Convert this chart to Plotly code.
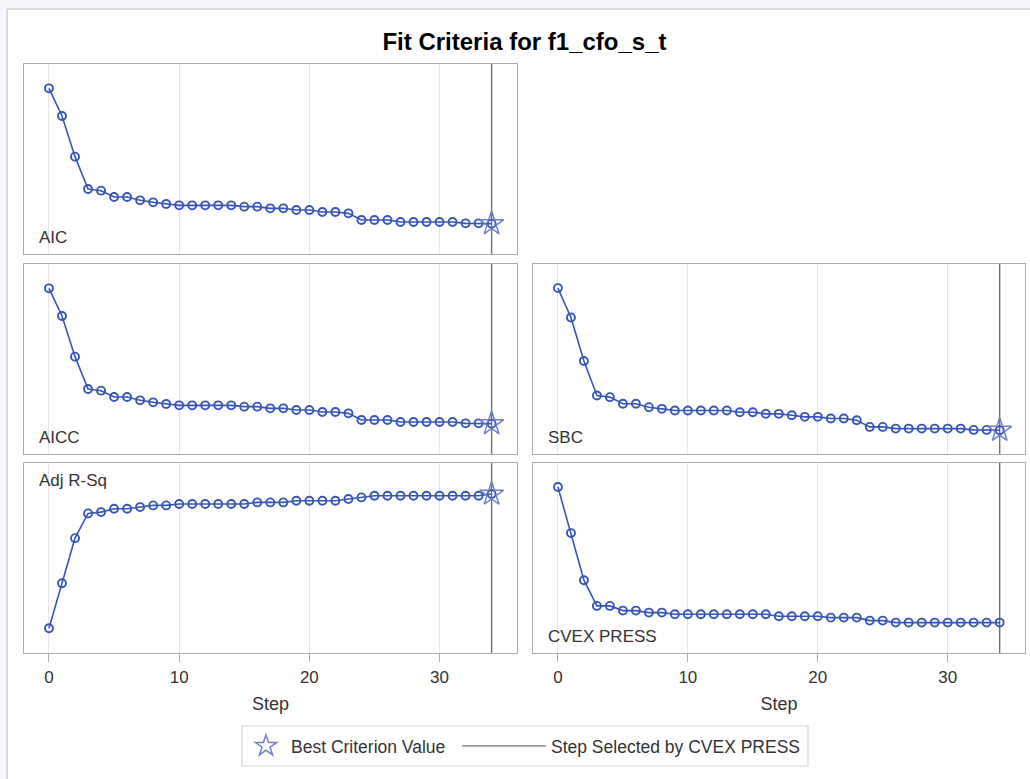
import plotly.graph_objects as go

# ---------------- data ----------------
steps = list(range(35))
selected_step = 34

aic = [1415, 1332, 1210, 1113, 1108, 1089, 1089, 1079, 1073, 1068, 1064, 1064, 1064, 1064, 1064,
       1060, 1060, 1055, 1055, 1050, 1050, 1044, 1044, 1040, 1020, 1020, 1020, 1014, 1014, 1014,
       1014, 1014, 1010, 1010, 1009]
aicc = [1417, 1334, 1212, 1115, 1110, 1091, 1091, 1081, 1075, 1070, 1066, 1066, 1066, 1066, 1066,
        1062, 1062, 1057, 1057, 1052, 1052, 1046, 1046, 1042, 1022, 1022, 1022, 1016, 1016, 1016,
        1016, 1016, 1012, 1012, 1011]
sbc = [1416, 1328, 1198, 1095, 1090, 1070, 1070, 1060, 1055, 1050, 1050, 1050, 1050, 1050, 1045,
       1045, 1040, 1040, 1036, 1031, 1031, 1026, 1026, 1021, 1001, 1001, 996, 996, 996, 996,
       996, 996, 992, 992, 991]
adj_rsq = [0.480, 0.615, 0.750, 0.824, 0.828, 0.838, 0.838, 0.843, 0.848, 0.848, 0.852, 0.852,
           0.852, 0.852, 0.852, 0.852, 0.857, 0.857, 0.857, 0.862, 0.862, 0.862, 0.862, 0.867,
           0.872, 0.877, 0.877, 0.877, 0.877, 0.877, 0.877, 0.877, 0.877, 0.877, 0.882]
cvex_press = [1403, 1265, 1124, 1047, 1047, 1033, 1033, 1027, 1027, 1022, 1022, 1022, 1022, 1022,
              1022, 1022, 1022, 1016, 1016, 1016, 1016, 1012, 1012, 1012, 1003, 1003, 997, 997,
              997, 997, 997, 997, 997, 997, 997]
x_ticks = [0, 10, 20, 30]

# ---------------- layout geometry (pixels) ----------------
W, H = 1030, 779
COL_L = (24, 517)
COL_R = (533, 1025)
ROW1 = (64, 254)
ROW2 = (264, 454)
ROW3 = (463, 653)
X_RANGE = [-1.92, 35.95]
LEG_BOX = (242, 808, 726, 766)  # left, right, top, bottom

BLUE = "#3556b8"
STAR = "#6f80c4"
REFLINE = "#707070"
FRAME = "#ababab"
GRID = "#e6e6e6"
TXT = "#333333"
FONT = "Liberation Sans, Arial, sans-serif"


def xdom(c):
    return [c[0] / W, c[1] / W]


def ydom(r):
    return [1 - r[1] / H, 1 - r[0] / H]


# name, values, column, row, best, y range, label position, bottom row, show star
panels = [
    ("AIC", aic, COL_L, ROW1, "min", [918, 1488], "bottom", False, True),
    ("AICC", aicc, COL_L, ROW2, "min", [920, 1490], "bottom", False, True),
    ("SBC", sbc, COL_R, ROW2, "min", [920, 1488], "bottom", False, True),
    ("Adj R-Sq", adj_rsq, COL_L, ROW3, "max", [0.406, 0.975], "top", True, True),
    ("CVEX PRESS", cvex_press, COL_R, ROW3, "min", [906, 1475], "bottom", True, False),
]

fig = go.Figure()
layout = {}
annotations = []
star_legend_done = False
line_legend_done = False

for i, (name, vals, col, row, best, yr, labpos, bottom, show_star) in enumerate(panels, start=1):
    xa = "x" if i == 1 else f"x{i}"
    ya = "y" if i == 1 else f"y{i}"
    xkey = "xaxis" if i == 1 else f"xaxis{i}"
    ykey = "yaxis" if i == 1 else f"yaxis{i}"

    # reference line at selected step
    fig.add_trace(go.Scatter(
        x=[selected_step, selected_step], y=yr, mode="lines",
        line=dict(color=REFLINE, width=1.4),
        name="Step Selected by CVEX PRESS", legend="legend2",
        showlegend=not line_legend_done, hoverinfo="skip",
        xaxis=xa, yaxis=ya))
    line_legend_done = True

    # criterion curve
    fig.add_trace(go.Scatter(
        x=steps, y=vals, mode="lines+markers",
        line=dict(color=BLUE, width=1.6),
        marker=dict(symbol="circle-open", size=8, color=BLUE, line=dict(width=1.9, color=BLUE)),
        showlegend=False, name=name, xaxis=xa, yaxis=ya))

    # best criterion value star
    if show_star:
        bv = min(vals) if best == "min" else max(vals)
        bi = len(vals) - 1 - vals[::-1].index(bv)
        fig.add_trace(go.Scatter(
            x=[steps[bi]], y=[bv], mode="markers",
            marker=dict(symbol="star-open", size=18, color=STAR, line=dict(width=1.5, color=STAR)),
            name="Best Criterion Value", legend="legend",
            showlegend=not star_legend_done, xaxis=xa, yaxis=ya))
        star_legend_done = True

    layout[xkey] = dict(
        domain=xdom(col), range=X_RANGE, anchor=ya,
        tickvals=x_ticks, showgrid=True, gridcolor=GRID, gridwidth=1,
        zeroline=False, showline=True, mirror=True, linecolor=FRAME, linewidth=1.3,
        ticks="outside" if bottom else "", ticklen=8, tickwidth=1.3, tickcolor=FRAME,
        showticklabels=bottom,
        tickfont=dict(size=17, color=TXT, family=FONT),
        title=dict(text="Step" if bottom else "", font=dict(size=18, color=TXT, family=FONT), standoff=11),
    )
    layout[ykey] = dict(
        domain=ydom(row), range=yr, anchor=xa,
        showgrid=False, zeroline=False, showline=True, mirror=True,
        linecolor=FRAME, linewidth=1.3, ticks="", showticklabels=False,
    )

    if labpos == "bottom":
        annotations.append(dict(
            text=name, xref=f"{xa} domain", yref=f"{ya} domain", x=0, y=0,
            xanchor="left", yanchor="middle", xshift=13, yshift=16.5, showarrow=False,
            font=dict(size=17, color=TXT, family=FONT)))
    else:
        annotations.append(dict(
            text=name, xref=f"{xa} domain", yref=f"{ya} domain", x=0, y=1,
            xanchor="left", yanchor="middle", xshift=13, yshift=-18, showarrow=False,
            font=dict(size=17, color=TXT, family=FONT)))

# page frame decoration + legend box
shapes = [
    dict(type="rect", xref="paper", yref="paper", x0=0, x1=1, y0=1 - 8 / H, y1=1,
         fillcolor="#f6f8fd", line=dict(width=0), layer="below"),
    dict(type="rect", xref="paper", yref="paper", x0=0, x1=6 / W, y0=0, y1=1,
         fillcolor="#f6f8fd", line=dict(width=0), layer="below"),
    dict(type="line", xref="paper", yref="paper", x0=7 / W, x1=1, y0=1 - 9 / H, y1=1 - 9 / H,
         line=dict(color="#dadada", width=2)),
    dict(type="line", xref="paper", yref="paper", x0=7 / W, x1=7 / W, y0=0, y1=1 - 9 / H,
         line=dict(color="#dadada", width=2)),
    dict(type="rect", xref="paper", yref="paper",
         x0=LEG_BOX[0] / W, x1=LEG_BOX[1] / W, y0=1 - LEG_BOX[3] / H, y1=1 - LEG_BOX[2] / H,
         line=dict(color="#d4d4d4", width=1.2), fillcolor="rgba(0,0,0,0)"),
]

leg_y = 1 - ((LEG_BOX[2] + LEG_BOX[3]) / 2) / H
leg_font = dict(size=17.5, color=TXT, family=FONT)

fig.update_layout(
    width=W, height=H,
    margin=dict(l=0, r=0, t=0, b=0),
    paper_bgcolor="white", plot_bgcolor="white",
    font=dict(family=FONT, color=TXT),
    title=dict(text="Fit Criteria for f1_cfo_s_t", x=524.5 / W, xanchor="center",
               y=1 - 42 / H, yanchor="middle",
               font=dict(size=24, color="#000000", family=FONT, weight="bold")),
    showlegend=True,
    legend=dict(orientation="h", x=(LEG_BOX[0] - 1) / W, xanchor="left", y=leg_y, yanchor="middle",
                borderwidth=0, bgcolor="rgba(0,0,0,0)", font=leg_font, itemwidth=40),
    legend2=dict(orientation="h", x=457 / W, xanchor="left", y=leg_y, yanchor="middle",
                 borderwidth=0, bgcolor="rgba(0,0,0,0)", font=leg_font, itemwidth=84),
    annotations=annotations,
    shapes=shapes,
    **layout,
)

fig.write_html("out.html", config={"displayModeBar": False},
               post_script="document.body.style.margin='0px';")
